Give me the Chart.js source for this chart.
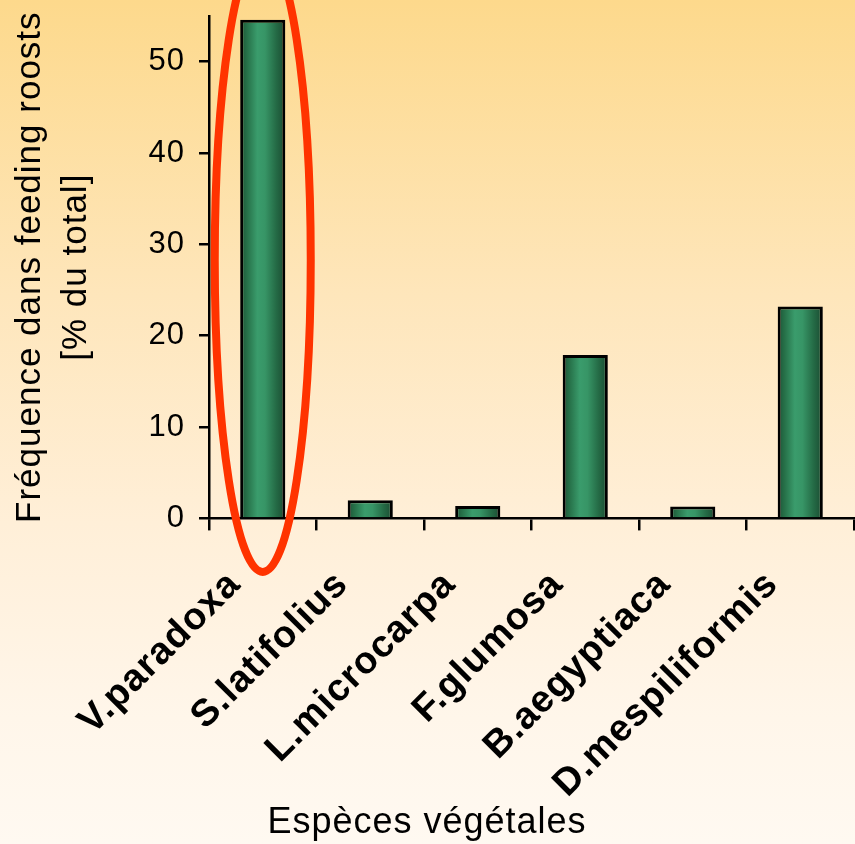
<!DOCTYPE html>
<html>
<head>
<meta charset="utf-8">
<script src="https://cdn.jsdelivr.net/npm/chart.js@4.4.1/dist/chart.umd.min.js"></script>
<style>
  html, body { margin: 0; padding: 0; }
  body {
    width: 855px; height: 844px; overflow: hidden;
    background: linear-gradient(to bottom, #fdd98c 0%, #fee6bb 35%, #ffefd8 62%, #fff6ea 85%, #fff9f1 100%);
  }
  #wrap { position: absolute; left: 0; top: 0; width: 855px; height: 844px; }
</style>
</head>
<body>
<div id="wrap"><canvas id="c" width="855" height="844"></canvas></div>
<script>
const categories = ['V.paradoxa', 'S.latifolius', 'L.microcarpa', 'F.glumosa', 'B.aegyptiaca', 'D.mespiliformis'];
const frequencies = [54.6, 2.0, 1.35, 17.9, 1.3, 23.2];
const yTickValues = [0, 10, 20, 30, 40, 50];
const yTitle = ['Fréquence dans feeding roosts', '[% du total]'];
const xTitle = 'Espèces végétales';
const highlightIndex = 0;

const FONT = "'Liberation Sans', Arial, sans-serif";
const BAR_PCT = 0.42;
const SPACING = '1px';

function barGradient(ctx) {
  const chart = ctx.chart;
  const xs = chart.scales && chart.scales.x;
  if (!xs || ctx.dataIndex === undefined || !isFinite(xs.getPixelForValue(0))) return '#2e8a5c';
  const cx = xs.getPixelForValue(ctx.dataIndex);
  const w = (xs.width / categories.length) * BAR_PCT;
  const g = chart.ctx.createLinearGradient(cx - w / 2, 0, cx + w / 2, 0);
  g.addColorStop(0, '#1c5236');
  g.addColorStop(0.15, '#267048');
  g.addColorStop(0.38, '#3a9c6c');
  g.addColorStop(0.55, '#379566');
  g.addColorStop(0.8, '#246a45');
  g.addColorStop(1, '#1a4a31');
  return g;
}

const spacingPlugin = {
  id: 'spacing',
  beforeInit(chart) { chart.ctx.letterSpacing = SPACING; },
  beforeUpdate(chart) { chart.ctx.letterSpacing = SPACING; },
  beforeDraw(chart) { chart.ctx.letterSpacing = SPACING; }
};

const ellipsePlugin = {
  id: 'ellipse',
  afterDraw(chart) {
    const meta = chart.getDatasetMeta(0);
    const bar = meta.data[highlightIndex];
    if (!bar) return;
    const ys = chart.scales.y;
    const c = chart.ctx;
    const cy = ys.getPixelForValue(28.3);
    c.save();
    c.strokeStyle = '#ff3300';
    c.lineWidth = 8;
    c.beginPath();
    c.ellipse(bar.x, cy, 48, 312, 0, 0, Math.PI * 2);
    c.stroke();
    c.restore();
  }
};

new Chart(document.getElementById('c'), {
  type: 'bar',
  data: {
    labels: categories,
    datasets: [{
      data: frequencies,
      backgroundColor: barGradient,
      borderColor: '#000',
      borderWidth: 3,
      borderSkipped: 'bottom',
      categoryPercentage: 1,
      barPercentage: BAR_PCT
    }]
  },
  options: {
    responsive: false,
    devicePixelRatio: 1,
    animation: false,
    layout: { padding: { top: 16, right: 1, left: 0, bottom: 0 } },
    plugins: {
      legend: { display: false },
      tooltip: { enabled: false },
      title: {
        display: true, position: 'bottom', text: xTitle, color: '#000',
        font: { family: FONT, size: 36, weight: 'normal', lineHeight: 1.1 },
        padding: { top: 0, bottom: 1 }
      }
    },
    scales: {
      y: {
        min: 0, max: 55,
        afterFit(s) { s.width = 209; s.paddingTop = 0; s.paddingBottom = 0; },
        afterBuildTicks(s) { s.ticks = yTickValues.map(v => ({ value: v })); },
        border: { display: true, color: '#000', width: 2.5 },
        grid: { drawOnChartArea: false, drawTicks: true, tickLength: 10, color: '#000', lineWidth: 2.5 },
        ticks: { color: '#000', font: { family: FONT, size: 31 }, padding: 14 },
        title: {
          display: true, text: yTitle, color: '#000',
          font: { family: FONT, size: 35, lineHeight: 1.3 },
          padding: { top: 8, bottom: 0 }
        }
      },
      x: {
        afterFit(s) { s.height = 285; s.paddingRight = 0; },
        border: { display: true, color: '#000', width: 2.5 },
        grid: { drawOnChartArea: false, drawTicks: true, tickLength: 12, color: '#000', lineWidth: 2.5, offset: true },
        ticks: {
          color: '#000', font: { family: FONT, size: 38, weight: 'bold' },
          minRotation: 45, maxRotation: 45, padding: 32, labelOffset: -28, autoSkip: false
        },
        title: { display: false }
      }
    }
  },
  plugins: [spacingPlugin, ellipsePlugin]
});
</script>
</body>
</html>
